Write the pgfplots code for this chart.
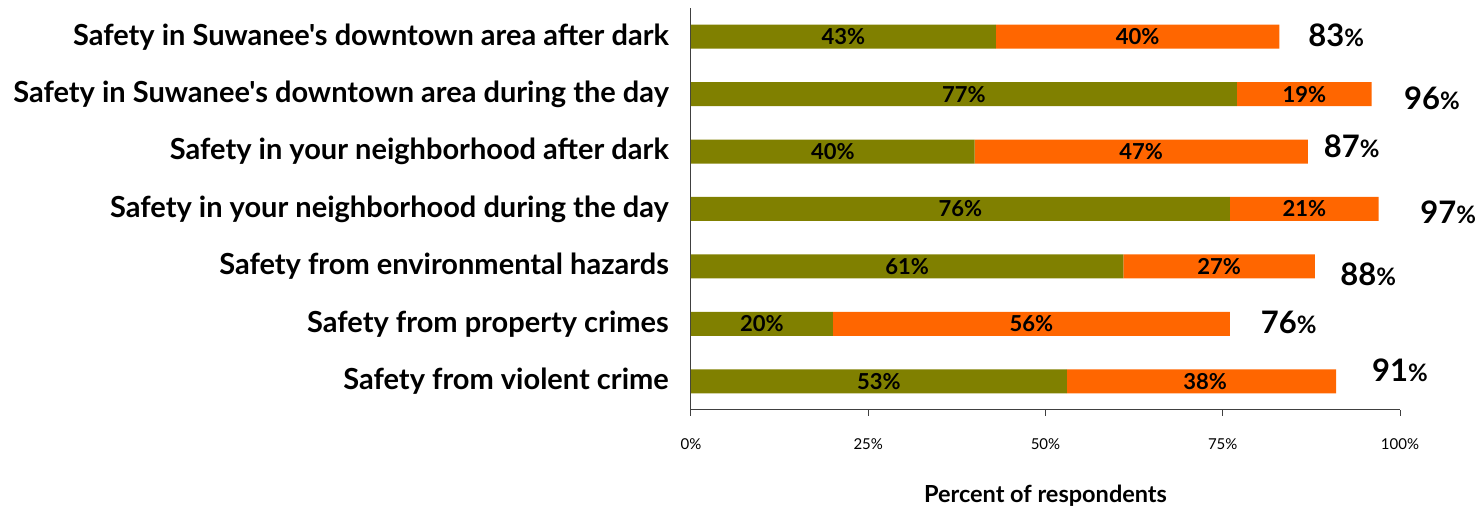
\documentclass[border=0pt]{standalone}
\usepackage{fontspec}
\setmainfont{Lato}[Ligatures=TeXOff]
\usepackage{pgfplots}
\usepackage{pgfplotstable}
\pgfplotsset{compat=1.18}
\definecolor{olivebar}{HTML}{808000}
\definecolor{orangebar}{HTML}{FF6600}
\pgfplotstableread{
y a b
0 53 38
1 20 56
2 61 27
3 76 21
4 40 47
5 77 19
6 43 40
}\datatable
% label positions (segment centres) and values
\pgfplotstableread{
y cx v
0 26.5 53
1 10.0 20
2 30.5 61
3 38.0 76
4 20.0 40
5 38.5 77
6 21.5 43
0 72.5 38
1 48.0 56
2 74.5 27
3 86.5 21
4 63.5 47
5 86.5 19
6 63.0 40
}\labeltable
\pgfplotsset{common/.style={
  at={(0pt,0pt)}, anchor=south west,
  scale only axis,
  width=709pt, height=402pt,
  xmin=0, xmax=100,
  ymin=-0.5, ymax=6.5,
  clip=false}}
\begin{document}
\begin{tikzpicture}
\begin{axis}[
  common,
  xbar stacked,
  bar width=24pt,
  axis lines=left,
  axis line style={-, black!75, line width=1pt},
  xtick={0,25,50,75,100},
  xticklabels={0\%,25\%,50\%,75\%,100\%},
  tick align=outside,
  major tick length=6pt,
  xtick style={black!75, line width=1pt},
  xticklabel style={font=\fontsize{15}{18}\selectfont, inner sep=0pt, yshift=-22pt},
  ytick={0,1,2,3,4,5,6},
  yticklabels={Safety from violent crime,
    Safety from property crimes,
    Safety from environmental hazards,
    Safety in your neighborhood during the day,
    Safety in your neighborhood after dark,
    Safety in Suwanee's downtown area during the day,
    Safety in Suwanee's downtown area after dark},
  ytick style={draw=none},
  yticklabel style={font=\fontsize{29}{34}\selectfont\bfseries, anchor=east, inner sep=0pt, xshift=-16pt},
  xlabel={Percent of respondents},
  xlabel style={font=\fontsize{23.5}{28}\selectfont\bfseries, at={(axis description cs:0.5,0)}, anchor=center, yshift=-86pt},
]
\addplot[fill=olivebar, draw=none] table[x=a, y=y] {\datatable};
\addplot[fill=orangebar, draw=none] table[x=b, y=y] {\datatable};
\end{axis}
\begin{axis}[common, hide axis]
\addplot[only marks, mark=none, point meta=explicit symbolic,
  nodes near coords={\pgfplotspointmeta\%},
  nodes near coords align=center,
  every node near coord/.append style={font=\fontsize{22}{26}\selectfont\bfseries, anchor=center, inner sep=0pt}]
  table[x=cx, y=y, meta=v] {\labeltable};
\begin{scope}[every node/.style={font=\fontsize{31}{36}\selectfont\bfseries, inner sep=0pt}]
\node at (axis cs:91.0,6.03) {83{\fontsize{24}{28}\selectfont\%}};
\node at (axis cs:104.5,4.93) {96{\fontsize{24}{28}\selectfont\%}};
\node at (axis cs:93.2,4.10) {87{\fontsize{24}{28}\selectfont\%}};
\node at (axis cs:106.8,2.95) {97{\fontsize{24}{28}\selectfont\%}};
\node at (axis cs:95.5,1.87) {88{\fontsize{24}{28}\selectfont\%}};
\node at (axis cs:84.3,1.03) {76{\fontsize{24}{28}\selectfont\%}};
\node at (axis cs:100.0,0.20) {91{\fontsize{24}{28}\selectfont\%}};
\end{scope}
\end{axis}
\pgfresetboundingbox
\path (-691pt,-100pt) rectangle (786pt,410pt);
\end{tikzpicture}
\end{document}
